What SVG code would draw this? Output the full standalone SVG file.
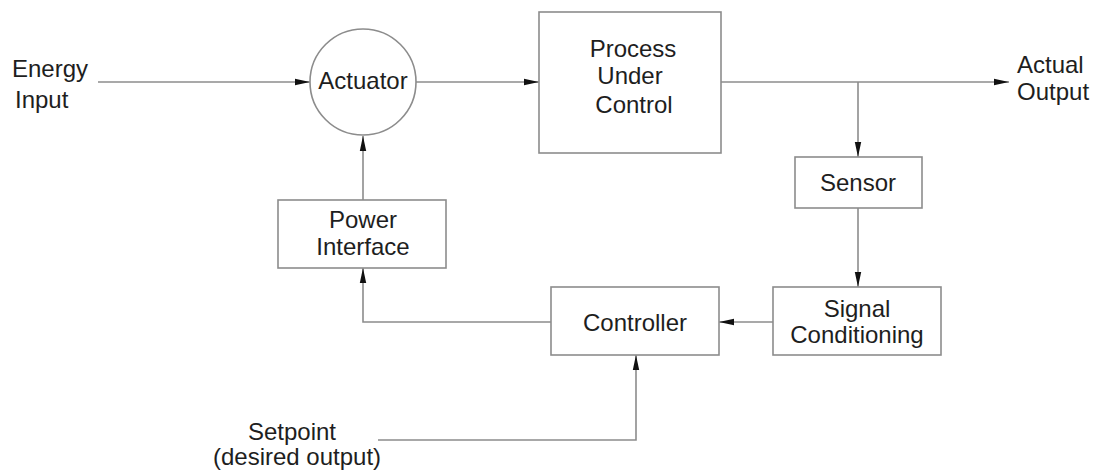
<svg xmlns="http://www.w3.org/2000/svg" width="1094" height="474" viewBox="0 0 1094 474">
<defs>
<style>
.box{fill:#fff;stroke:#8c8c8c;stroke-width:1.6}
.ln{fill:none;stroke:#8c8c8c;stroke-width:1.6}
.t{font-family:"Liberation Sans",Arial,sans-serif;font-size:24px;fill:#1e1e1e}
.c{text-anchor:middle}
</style>
<marker id="arr" markerUnits="userSpaceOnUse" markerWidth="16" markerHeight="8" refX="15" refY="4" orient="auto">
<path d="M0,0.8 L15,4 L0,7.2 z" fill="#111"/>
</marker>
</defs>
<rect width="1094" height="474" fill="#fff"/>
<g id="connectors">
<line class="ln" x1="98" y1="82" x2="310" y2="82" marker-end="url(#arr)"/>
<line class="ln" x1="416" y1="82" x2="539" y2="82" marker-end="url(#arr)"/>
<line class="ln" x1="721" y1="82" x2="1009" y2="82" marker-end="url(#arr)"/>
<line class="ln" x1="858" y1="82" x2="858" y2="157" marker-end="url(#arr)"/>
<line class="ln" x1="858" y1="208" x2="858" y2="287" marker-end="url(#arr)"/>
<line class="ln" x1="773" y1="322" x2="719" y2="322" marker-end="url(#arr)"/>
<polyline class="ln" points="551,322 363,322 363,268" marker-end="url(#arr)"/>
<line class="ln" x1="363" y1="200" x2="363" y2="136" marker-end="url(#arr)"/>
<polyline class="ln" points="378,440 636,440 636,355" marker-end="url(#arr)"/>
</g>
<g id="energy-input">
<text class="t" x="12" y="77">Energy</text>
<text class="t" x="15" y="108">Input</text>
</g>
<g id="actuator">
<circle class="box" cx="363" cy="82" r="53"/>
<text class="t c" x="363" y="89">Actuator</text>
</g>
<g id="process">
<rect class="box" x="539" y="12" width="182" height="141"/>
<text class="t c" x="633" y="57">Process</text>
<text class="t c" x="630" y="84">Under</text>
<text class="t c" x="634" y="113">Control</text>
</g>
<g id="actual-output">
<text class="t" x="1017" y="73">Actual</text>
<text class="t" x="1017" y="100">Output</text>
</g>
<g id="sensor">
<rect class="box" x="795" y="157" width="127" height="51"/>
<text class="t c" x="858" y="191">Sensor</text>
</g>
<g id="signal-conditioning">
<rect class="box" x="773" y="287" width="168" height="68"/>
<text class="t c" x="857" y="317">Signal</text>
<text class="t c" x="857" y="343">Conditioning</text>
</g>
<g id="controller">
<rect class="box" x="551" y="287" width="168" height="68"/>
<text class="t c" x="635" y="331">Controller</text>
</g>
<g id="power-interface">
<rect class="box" x="278" y="200" width="168" height="68"/>
<text class="t c" x="363" y="228">Power</text>
<text class="t c" x="363" y="255">Interface</text>
</g>
<g id="setpoint">
<text class="t c" x="292" y="440">Setpoint</text>
<text class="t c" x="297" y="465">(desired output)</text>
</g>
</svg>
